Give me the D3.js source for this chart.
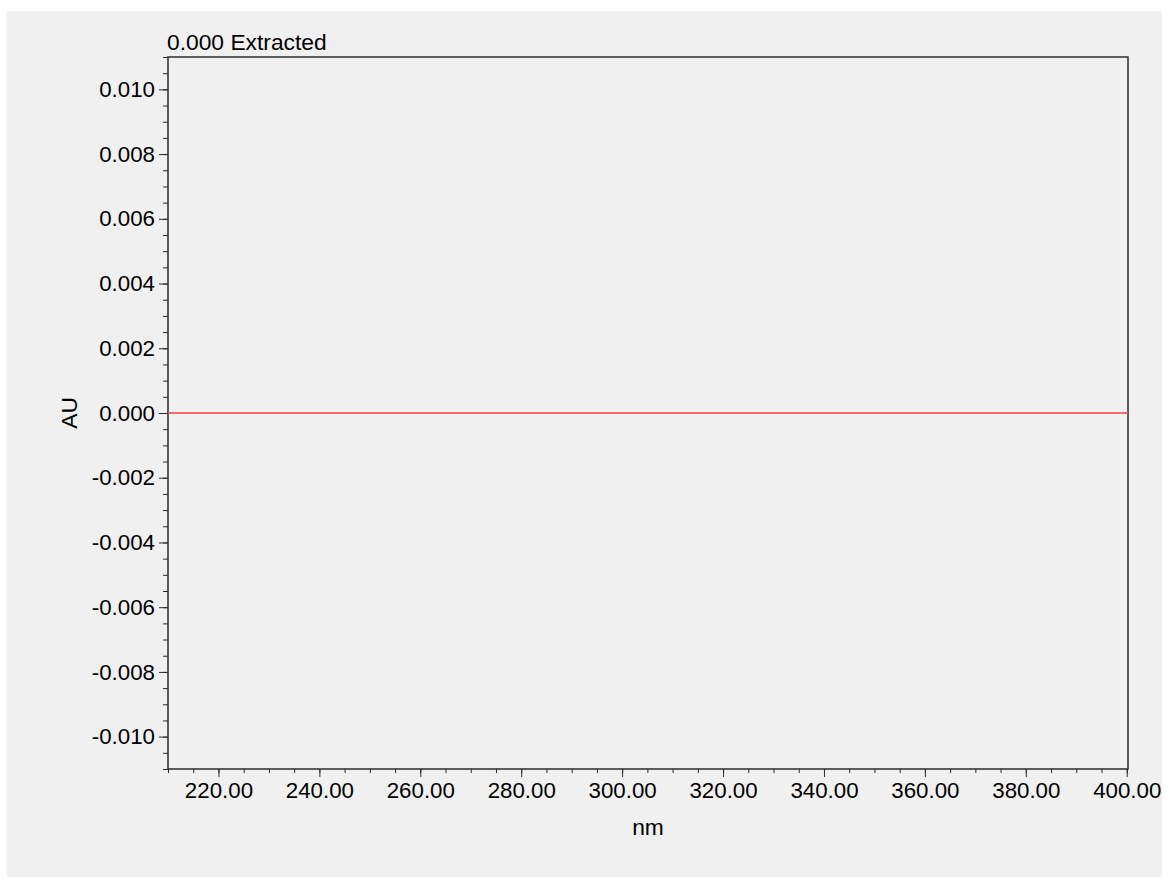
<!DOCTYPE html>
<html>
<head>
<meta charset="utf-8">
<script src="https://cdn.jsdelivr.net/npm/d3@7"></script>
<style>
  html, body { margin: 0; padding: 0; background: #ffffff; }
  svg { display: block; }
  text { font-family: "Liberation Sans", Arial, sans-serif; fill: #000; }
</style>
</head>
<body>
<svg id="chart" width="1167" height="878"></svg>
<script>
// Extracted spectrum at 0.000 min: flat baseline across the scan range
const wavelengths = [210, 220, 240, 260, 280, 300, 320, 340, 360, 380, 400, 400.25];
const absorbance  = [0, 0, 0, 0, 0, 0, 0, 0, 0, 0, 0, 0];

const xMajorTicks = [220, 240, 260, 280, 300, 320, 340, 360, 380, 400];
const yMajorTicks = [0.010, 0.008, 0.006, 0.004, 0.002, 0.000, -0.002, -0.004, -0.006, -0.008, -0.010];
const xDomain = [210, 400.25];
const yDomain = [-0.011, 0.011];
const titleText = "0.000 Extracted";
const xLabel = "nm";
const yLabel = "AU";

const svg = d3.select("#chart");
const plot = { left: 168, right: 1128, top: 57, bottom: 769 };
const axisColor = "#2b2b2b";
const tickFont = "22.3px";
const labelFont = "22.8px";

// panel background
svg.append("rect")
  .attr("x", 7).attr("y", 11)
  .attr("width", 1155).attr("height", 866)
  .attr("fill", "#f0f0f0");

const x = d3.scaleLinear().domain(xDomain).range([plot.left, plot.right]);
const y = d3.scaleLinear().domain(yDomain).range([plot.bottom, plot.top]);

// minor tick positions
const xMinor = d3.range(210, 400.01, 5);
const yMinor = d3.range(-22, 23).map(i => i * 0.0005);

// x axis: minor ticks, then labelled major ticks
const gxMinor = svg.append("g")
  .attr("transform", `translate(0,${plot.bottom})`)
  .call(d3.axisBottom(x).tickValues(xMinor).tickSize(4).tickFormat(""));
const gx = svg.append("g")
  .attr("transform", `translate(0,${plot.bottom})`)
  .call(d3.axisBottom(x).tickValues(xMajorTicks).tickSize(8).tickPadding(5)
        .tickFormat(d3.format(".2f")));

// y axis
const gyMinor = svg.append("g")
  .attr("transform", `translate(${plot.left},0)`)
  .call(d3.axisLeft(y).tickValues(yMinor).tickSize(5).tickFormat(""));
const gy = svg.append("g")
  .attr("transform", `translate(${plot.left},0)`)
  .call(d3.axisLeft(y).tickValues(yMajorTicks).tickSize(9).tickPadding(4)
        .tickFormat(d => d3.format(".3f")(Math.abs(d) < 1e-12 ? 0 : d).replace("−", "-")));

[gxMinor, gx, gyMinor, gy].forEach(g => {
  g.select(".domain").remove();
  g.selectAll(".tick line").attr("stroke", axisColor).attr("stroke-width", 1);
  g.selectAll("text").style("font-size", tickFont).attr("fill", "#000");
});

// frame: left, bottom, top, right
svg.append("path")
  .attr("d", `M${plot.left},${plot.top}H${plot.right}V${plot.bottom}H${plot.left}Z`)
  .attr("fill", "none")
  .attr("stroke", axisColor)
  .attr("stroke-width", 1.5);

// spectrum trace
const line = d3.line()
  .x(d => x(d[0]))
  .y(d => y(d[1]));
svg.append("path")
  .datum(wavelengths.map((w, i) => [w, absorbance[i]]))
  .attr("d", line)
  .attr("fill", "none")
  .attr("stroke", "#ff3c3c")
  .attr("stroke-width", 1.3);

// title above plot
svg.append("text")
  .attr("x", plot.left - 1)
  .attr("y", 50)
  .style("font-size", labelFont)
  .text(titleText);

// axis titles
svg.append("text")
  .attr("x", (plot.left + plot.right) / 2)
  .attr("y", 835)
  .attr("text-anchor", "middle")
  .style("font-size", labelFont)
  .text(xLabel);

svg.append("text")
  .attr("transform", `translate(77,${y(0)}) rotate(-90)`)
  .attr("text-anchor", "middle")
  .style("font-size", labelFont)
  .text(yLabel);
</script>
</body>
</html>
